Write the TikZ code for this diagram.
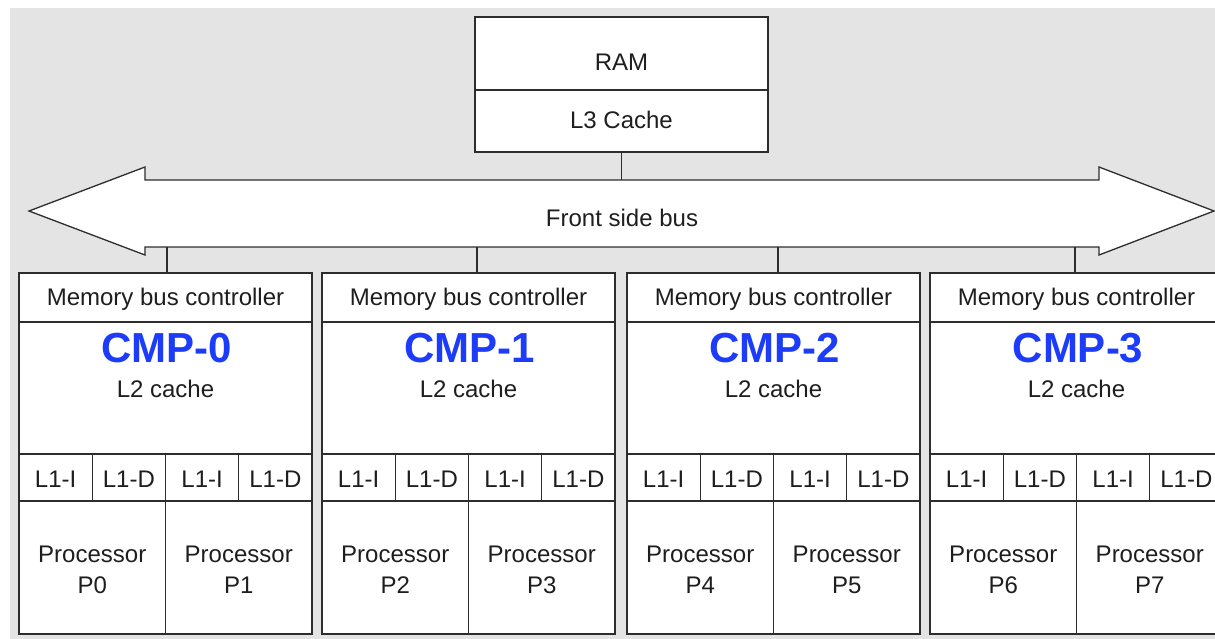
\documentclass[tikz,border=0pt]{standalone}
\usepackage{fontspec}
\setmainfont{Liberation Sans}
\newfontfamily\cmpfont{Liberation Sans}
\definecolor{bggray}{RGB}{228,228,228}
\definecolor{linec}{RGB}{45,45,45}
\definecolor{textc}{RGB}{30,30,30}
\definecolor{cmpblue}{RGB}{28,60,250}
\begin{document}
\begin{tikzpicture}[x=1pt,y=-1pt,
  ln/.style={draw=linec, line width=1.3pt},
  box/.style={ln, fill=white, inner sep=0pt, outer sep=0pt, rectangle},
  txt/.style={font=\fontsize{24}{28}\selectfont, text=textc, anchor=base, inner sep=0pt},
  cmp/.style={font=\cmpfont\bfseries\fontsize{42}{46}\selectfont, text=cmpblue, anchor=base, inner sep=0pt}]
\useasboundingbox (0,0) rectangle (1215,638);
\clip (0,0) rectangle (1215,638);
\fill[bggray] (10,8) rectangle (1220,645);
% RAM / L3
\node[box, minimum width=293pt, minimum height=73pt] (ram) at (621.5,53.5) {};
\node[box, minimum width=293pt, minimum height=62pt] (l3) at (621.5,121) {};
\node[txt] (ramt) at (621.5,70) {RAM};
\node[txt] (l3t) at (621.5,128) {L3 Cache};
% bus
\draw[ln, fill=white, line join=miter] (29,211) -- (145,167) -- (145,180) -- (1099,180) -- (1099,167)
  -- (1214,211) -- (1099,255) -- (1099,247) -- (145,247) -- (145,255) -- cycle;
\coordinate (bustop) at (622,180);
\node[txt] (fsbt) at (622,226) {Front side bus};
\draw[ln] (l3.south) -- (l3.south |- bustop);
% CMPs
\foreach \i/\l/\c in {0/19/167, 1/322/477, 2/627/778, 3/930/1075}{
  \pgfmathtruncatemacro\pa{2*\i}
  \pgfmathtruncatemacro\pb{2*\i+1}
  \node[box, minimum width=293pt, minimum height=49pt] (mbc\i) at ({\l+146.5},297.5) {};
  \node[box, minimum width=293pt, minimum height=132pt] (l2\i) at ({\l+146.5},388) {};
  \foreach \k/\lab in {0/L1-I,1/L1-D,2/L1-I,3/L1-D}{
    \node[box, minimum width=73.25pt, minimum height=47pt] (lone\i\k) at ({\l+36.625+73.25*\k},477.5) {};
    \node[txt] (lonet\i\k) at ({\l+36.625+73.25*\k},487) {\lab};
  }
  \node[box, minimum width=146.5pt, minimum height=133pt] (pa\i) at ({\l+73.25},567.5) {};
  \node[box, minimum width=146.5pt, minimum height=133pt] (pb\i) at ({\l+219.75},567.5) {};
  \node[txt] (pat\i) at ({\l+73.25},562) {Processor};
  \node[txt] (pan\i) at ({\l+73.25},593) {P\pa};
  \node[txt] (pbt\i) at ({\l+219.75},562) {Processor};
  \node[txt] (pbn\i) at ({\l+219.75},593) {P\pb};
  \node[txt] (mbct\i) at ({\l+146.5},305) {Memory bus controller};
  \node[cmp] (cmpt\i) at ({\l+148},362) {CMP-\i};
  \node[txt] (l2t\i) at ({\l+146.5},397) {L2 cache};
  \coordinate (tap\i) at (\c,247);
  \draw[ln] (tap\i) -- (tap\i |- mbc\i.north);
}
\end{tikzpicture}
\end{document}
